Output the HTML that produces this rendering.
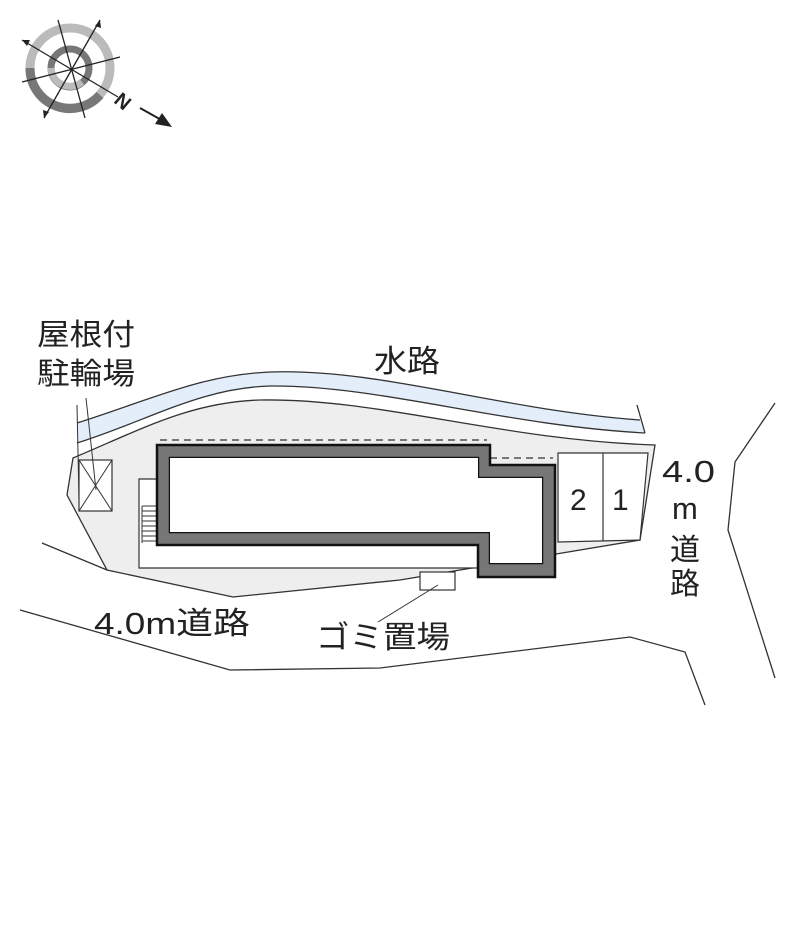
<!DOCTYPE html>
<html><head><meta charset="utf-8"><style>
html,body{margin:0;padding:0;background:#fff;}
svg text{font-family:"Liberation Sans","Noto Sans CJK JP",sans-serif;fill:#222;}
</style></head><body>
<svg width="800" height="940" viewBox="0 0 800 940" xmlns="http://www.w3.org/2000/svg">
<!-- compass -->
<circle cx="70" cy="68" r="40" fill="none" stroke="#bbb" stroke-width="9"/>
<path d="M30,68 A40,40 0 0 0 100,95" fill="none" stroke="#777" stroke-width="9"/>
<circle cx="70" cy="68" r="19" fill="none" stroke="#777" stroke-width="7"/>
<path d="M51,68 A19,19 0 0 0 82,82" fill="none" stroke="#bbb" stroke-width="7"/>
<g stroke="#222" stroke-width="1.3">
<line x1="22" y1="40" x2="118" y2="97"/>
<line x1="100" y1="20" x2="44" y2="118"/>
<line x1="58" y1="20" x2="85" y2="118"/>
<line x1="22" y1="82" x2="120" y2="57"/>
</g>
<polygon points="22,40 30,40 27,46" fill="#222"/>
<polygon points="100,20 101,28 95,26" fill="#222"/>
<polygon points="44,118 43,110 49,112" fill="#222"/>
<text x="115" y="110" font-size="20" font-weight="bold" transform="rotate(40 125 103)">N</text>
<line x1="140" y1="108" x2="165" y2="122" stroke="#222" stroke-width="2"/>
<polygon points="172,127 155,124 162,113" fill="#222"/>
<!-- water channel -->
<path d="M77,423 C150,400 200,375 270,372 C380,368 500,410 640,420 L645,433 C500,425 380,385 270,386 C200,388 150,420 77,443 Z" fill="#e4eefa"/>
<path d="M77,423 C150,400 200,375 270,372 C380,368 500,410 640,420" fill="none" stroke="#333" stroke-width="1.3"/>
<path d="M645,433 C500,425 380,385 270,386 C200,388 150,420 77,443" fill="none" stroke="#333" stroke-width="1.3"/>
<line x1="637" y1="405" x2="645" y2="433" stroke="#333" stroke-width="1.3"/>
<!-- lot -->
<path d="M73,458 C140,430 190,402 260,400 C380,398 500,440 655,445 L640,540 L400,580 L233,597 L107,570 L67,495 Z" fill="#eeeeee" stroke="#333" stroke-width="1.3"/>
<!-- walkway -->
<rect x="139" y="479" width="18" height="89" fill="#fff"/>
<rect x="157" y="545" width="321" height="23" fill="#fff"/>
<polyline points="157,479 139,479 139,568 478,568" fill="none" stroke="#333" stroke-width="1.2"/>
<g stroke="#333" stroke-width="1">
<line x1="142" y1="506" x2="157" y2="506"/><line x1="142" y1="511" x2="157" y2="511"/>
<line x1="142" y1="516" x2="157" y2="516"/><line x1="142" y1="521" x2="157" y2="521"/>
<line x1="142" y1="526" x2="157" y2="526"/><line x1="142" y1="531" x2="157" y2="531"/>
<line x1="142" y1="536" x2="157" y2="536"/><line x1="142" y1="541" x2="157" y2="541"/>
<line x1="142" y1="506" x2="142" y2="543"/>
</g>
<!-- dashed -->
<line x1="160" y1="440" x2="487" y2="440" stroke="#333" stroke-width="1.3" stroke-dasharray="7,5"/>
<line x1="490" y1="458" x2="553" y2="458" stroke="#333" stroke-width="1.3" stroke-dasharray="7,5"/>
<!-- building -->
<path d="M157,445 L490,445 L490,465 L555,465 L555,577 L478,577 L478,545 L157,545 Z M170,458 L478,458 L478,478 L542,478 L542,563 L490,563 L490,532 L170,532 Z" fill="#777" fill-rule="evenodd" stroke="#111" stroke-width="2.5"/>
<polygon points="170,458 478,458 478,478 542,478 542,563 490,563 490,532 170,532" fill="#fff"/>
<!-- parking -->
<polygon points="558,453 648,453 640,540 558,542" fill="#fff" stroke="#333" stroke-width="1.2"/>
<line x1="603" y1="453" x2="603" y2="541" stroke="#333" stroke-width="1.2"/>
<text x="570" y="510" font-size="30">2</text>
<text x="612" y="510" font-size="30">1</text>
<!-- bike box -->
<rect x="79" y="460" width="33" height="51" fill="#fff" stroke="#333" stroke-width="1.2"/>
<line x1="79" y1="460" x2="112" y2="511" stroke="#333"/><line x1="112" y1="460" x2="79" y2="511" stroke="#333"/>
<line x1="77" y1="405" x2="79" y2="500" stroke="#333" stroke-width="1"/>
<line x1="86" y1="398" x2="96" y2="490" stroke="#333" stroke-width="1"/>
<!-- garbage -->
<rect x="420" y="572" width="35" height="18" fill="#fff" stroke="#333" stroke-width="1.2"/>
<line x1="438" y1="585" x2="378" y2="622" stroke="#333" stroke-width="1"/>
<!-- roads -->
<polyline points="42,543 107,570" fill="none" stroke="#333" stroke-width="1.3"/>
<polyline points="20,610 230,670 380,668 630,637 685,652 705,705" fill="none" stroke="#333" stroke-width="1.3"/>
<polyline points="775,403 735,462 728,530 775,678" fill="none" stroke="#333" stroke-width="1.3"/>
<!-- labels -->
<text x="37" y="345" font-size="30" textLength="98" lengthAdjust="spacingAndGlyphs">屋根付</text>
<text x="37" y="384" font-size="30" textLength="98" lengthAdjust="spacingAndGlyphs">駐輪場</text>
<text x="374" y="372" font-size="31" textLength="66" lengthAdjust="spacingAndGlyphs">水路</text>
<text x="94" y="634" font-size="31" textLength="156" lengthAdjust="spacingAndGlyphs">4.0m道路</text>
<text x="316" y="648" font-size="31" textLength="134" lengthAdjust="spacingAndGlyphs">ゴミ置場</text>
<text x="662" y="482" font-size="31" textLength="53" lengthAdjust="spacingAndGlyphs">4.0</text>
<text x="672" y="519" font-size="31">m</text>
<text x="670" y="560" font-size="30">道</text>
<text x="670" y="594" font-size="30">路</text>
</svg>
</body></html>
